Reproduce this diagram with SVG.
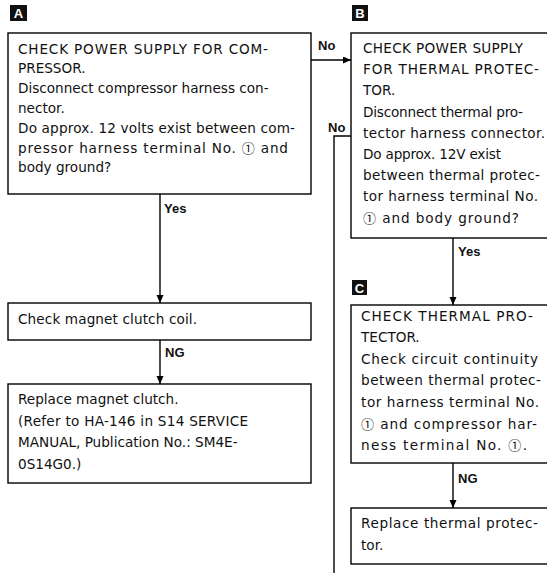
<svg xmlns="http://www.w3.org/2000/svg" width="547" height="576" viewBox="0 0 547 576">
<style>
.box{fill:#fff;stroke:#000;stroke-width:1.4}
.t{font-family:"DejaVu Sans","Liberation Sans",Arial,sans-serif;font-size:13.6px;fill:#111}
.c1{font-family:"Noto Sans CJK JP","DejaVu Sans",sans-serif;font-size:13px}
.lbl{font-family:"Liberation Sans",Arial,sans-serif;font-size:13px;font-weight:bold;fill:#111}
.tag{fill:#111}
.tagt{font-family:"Liberation Sans",Arial,sans-serif;font-size:13px;font-weight:bold;fill:#fff}
.ln{fill:none;stroke:#000;stroke-width:1.4}
</style>
<defs>
<marker id="ah" markerUnits="userSpaceOnUse" markerWidth="9" markerHeight="8" refX="8" refY="3.5" orient="auto">
<path d="M0,0 L8,3.5 L0,7 z" fill="#000"/>
</marker>
</defs>
<rect width="547" height="576" fill="#fff"/>

<g id="tagA"><rect class="tag" x="10" y="5" width="17" height="16"/><text class="tagt" x="18.5" y="18" text-anchor="middle">A</text></g>
<g id="tagB"><rect class="tag" x="352" y="5" width="16" height="16"/><text class="tagt" x="360" y="18" text-anchor="middle">B</text></g>
<g id="tagC"><rect class="tag" x="352" y="280" width="15" height="15"/><text class="tagt" x="359.5" y="292.5" text-anchor="middle">C</text></g>

<g id="connectors">
<line class="ln" x1="311" y1="60" x2="351" y2="60" marker-end="url(#ah)"/>
<text class="lbl" x="318" y="50">No</text>
<polyline class="ln" points="351,136 334,136 334,573"/>
<text class="lbl" x="328" y="132">No</text>
<line class="ln" x1="160" y1="194" x2="160" y2="303" marker-end="url(#ah)"/>
<text class="lbl" x="164" y="213">Yes</text>
<line class="ln" x1="160" y1="340" x2="160" y2="384" marker-end="url(#ah)"/>
<text class="lbl" x="165" y="357">NG</text>
<line class="ln" x1="453" y1="238" x2="453" y2="305" marker-end="url(#ah)"/>
<text class="lbl" x="458" y="256">Yes</text>
<line class="ln" x1="453" y1="463" x2="453" y2="508" marker-end="url(#ah)"/>
<text class="lbl" x="458" y="483">NG</text>
</g>

<g id="nodeA">
<rect class="box" x="8" y="33" width="303" height="161"/>
<text class="t" x="18" y="53.5" textLength="250" lengthAdjust="spacing">CHECK POWER SUPPLY FOR COM-</text>
<text class="t" x="18" y="73.3">PRESSOR.</text>
<text class="t" x="18" y="93.1">Disconnect compressor harness con-</text>
<text class="t" x="18" y="112.9">nector.</text>
<text class="t" x="18" y="132.7" textLength="277" lengthAdjust="spacing">Do approx. 12 volts exist between com-</text>
<text class="t" x="18" y="152.5" textLength="270" lengthAdjust="spacing">pressor harness terminal No. <tspan class="c1">①</tspan> and</text>
<text class="t" x="18" y="172.3">body ground?</text>
</g>

<g id="nodeB">
<rect class="box" x="351" y="33" width="210" height="205"/>
<text class="t" x="363" y="53" textLength="160" lengthAdjust="spacing">CHECK POWER SUPPLY</text>
<text class="t" x="363" y="74.2" textLength="176" lengthAdjust="spacing">FOR THERMAL PROTEC-</text>
<text class="t" x="363" y="95.4">TOR.</text>
<text class="t" x="363" y="116.6" textLength="160" lengthAdjust="spacing">Disconnect thermal pro-</text>
<text class="t" x="363" y="137.8" textLength="182" lengthAdjust="spacing">tector harness connector.</text>
<text class="t" x="363" y="159" textLength="138" lengthAdjust="spacing">Do approx. 12V exist</text>
<text class="t" x="363" y="180.2" textLength="177" lengthAdjust="spacing">between thermal protec-</text>
<text class="t" x="363" y="201.4" textLength="175" lengthAdjust="spacing">tor harness terminal No.</text>
<text class="t" x="363" y="222.6" textLength="156" lengthAdjust="spacing"><tspan class="c1">①</tspan> and body ground?</text>
</g>

<g id="node2">
<rect class="box" x="8" y="303" width="303" height="37"/>
<text class="t" x="18" y="324" textLength="179" lengthAdjust="spacing">Check magnet clutch coil.</text>
</g>

<g id="node3">
<rect class="box" x="8" y="384" width="303" height="99"/>
<text class="t" x="18" y="404">Replace magnet clutch.</text>
<text class="t" x="18" y="425.7" textLength="230" lengthAdjust="spacing">(Refer to HA-146 in S14 SERVICE</text>
<text class="t" x="18" y="447.3">MANUAL, Publication No.: SM4E-</text>
<text class="t" x="18" y="469">0S14G0.)</text>
</g>

<g id="nodeC">
<rect class="box" x="351" y="305" width="210" height="158"/>
<text class="t" x="361" y="320.5" textLength="172" lengthAdjust="spacing">CHECK THERMAL PRO-</text>
<text class="t" x="361" y="342.1">TECTOR.</text>
<text class="t" x="361" y="363.7" textLength="177" lengthAdjust="spacing">Check circuit continuity</text>
<text class="t" x="361" y="385.3" textLength="180" lengthAdjust="spacing">between thermal protec-</text>
<text class="t" x="361" y="406.9" textLength="178" lengthAdjust="spacing">tor harness terminal No.</text>
<text class="t" x="361" y="428.5" textLength="176" lengthAdjust="spacing"><tspan class="c1">①</tspan> and compressor har-</text>
<text class="t" x="361" y="450.1" textLength="166" lengthAdjust="spacing">ness terminal No. <tspan class="c1">①</tspan>.</text>
</g>

<g id="nodeD">
<rect class="box" x="351" y="508" width="210" height="56"/>
<text class="t" x="361" y="528" textLength="177" lengthAdjust="spacing">Replace thermal protec-</text>
<text class="t" x="361" y="549.5">tor.</text>
</g>
</svg>
